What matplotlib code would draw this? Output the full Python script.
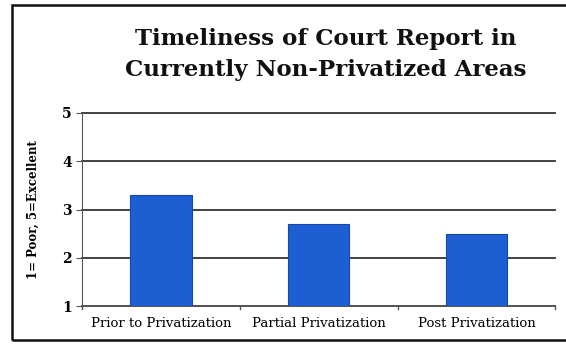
import matplotlib.pyplot as plt
from matplotlib.patches import Rectangle
import numpy as np

categories = ['Prior to Privatization', 'Partial Privatization', 'Post Privatization']
ratings = [3.3, 2.7, 2.5]
y_ticks = [1, 2, 3, 4, 5]

fig = plt.figure(figsize=(5.66, 3.45), dpi=100)
ax = fig.add_axes([0.145, 0.113, 0.836, 0.5595])

x = np.arange(len(categories))
ax.bar(x, ratings, width=0.39, bottom=0, color='#1d5fd2', edgecolor='#1548a8',
       linewidth=0.8, zorder=3)

ax.set_xlim(-0.5, 2.5)
ax.set_ylim(1, 5)
ax.set_yticks(y_ticks)
ax.set_yticklabels([str(t) for t in y_ticks], fontfamily='DejaVu Serif',
                   fontsize=10, fontweight='bold')
ax.set_xticks(x)
ax.set_xticklabels(categories, fontfamily='DejaVu Serif', fontsize=9.5)
ax.tick_params(axis='x', length=0, pad=8)
ax.tick_params(axis='y', length=4, direction='out', color='#555555')

# boundary ticks on the category axis
for b in [-0.5, 0.5, 1.5, 2.5]:
    ax.plot([b, b], [1, 0.93], color='#555555', lw=1, clip_on=False, zorder=4)

# horizontal gridlines drawn unclipped so the top one keeps its full weight
for t in y_ticks[1:]:
    ax.axhline(t, color='#333333', lw=1.3, zorder=1, clip_on=False)
for s in ['top', 'right']:
    ax.spines[s].set_visible(False)
ax.spines['left'].set_color('#555555')
ax.spines['bottom'].set_color('#444444')
ax.spines['bottom'].set_linewidth(1.3)

ax.set_ylabel('1= Poor, 5=Excellent', fontfamily='DejaVu Serif',
              fontweight='bold', fontsize=8.5, labelpad=16)

fig.text(0.575, 0.842, 'Timeliness of Court Report in\nCurrently Non-Privatized Areas',
         ha='center', va='center', fontfamily='DejaVu Serif', fontweight='bold',
         fontsize=16.5, linespacing=1.5, color='#111111')

# frame around the chart
fig.patches.append(Rectangle((12 / 566, 5 / 345), 1.0, 335 / 345,
                             transform=fig.transFigure, fill=False,
                             edgecolor='#111111', lw=1.8))

fig.savefig('out.png', dpi=100)
